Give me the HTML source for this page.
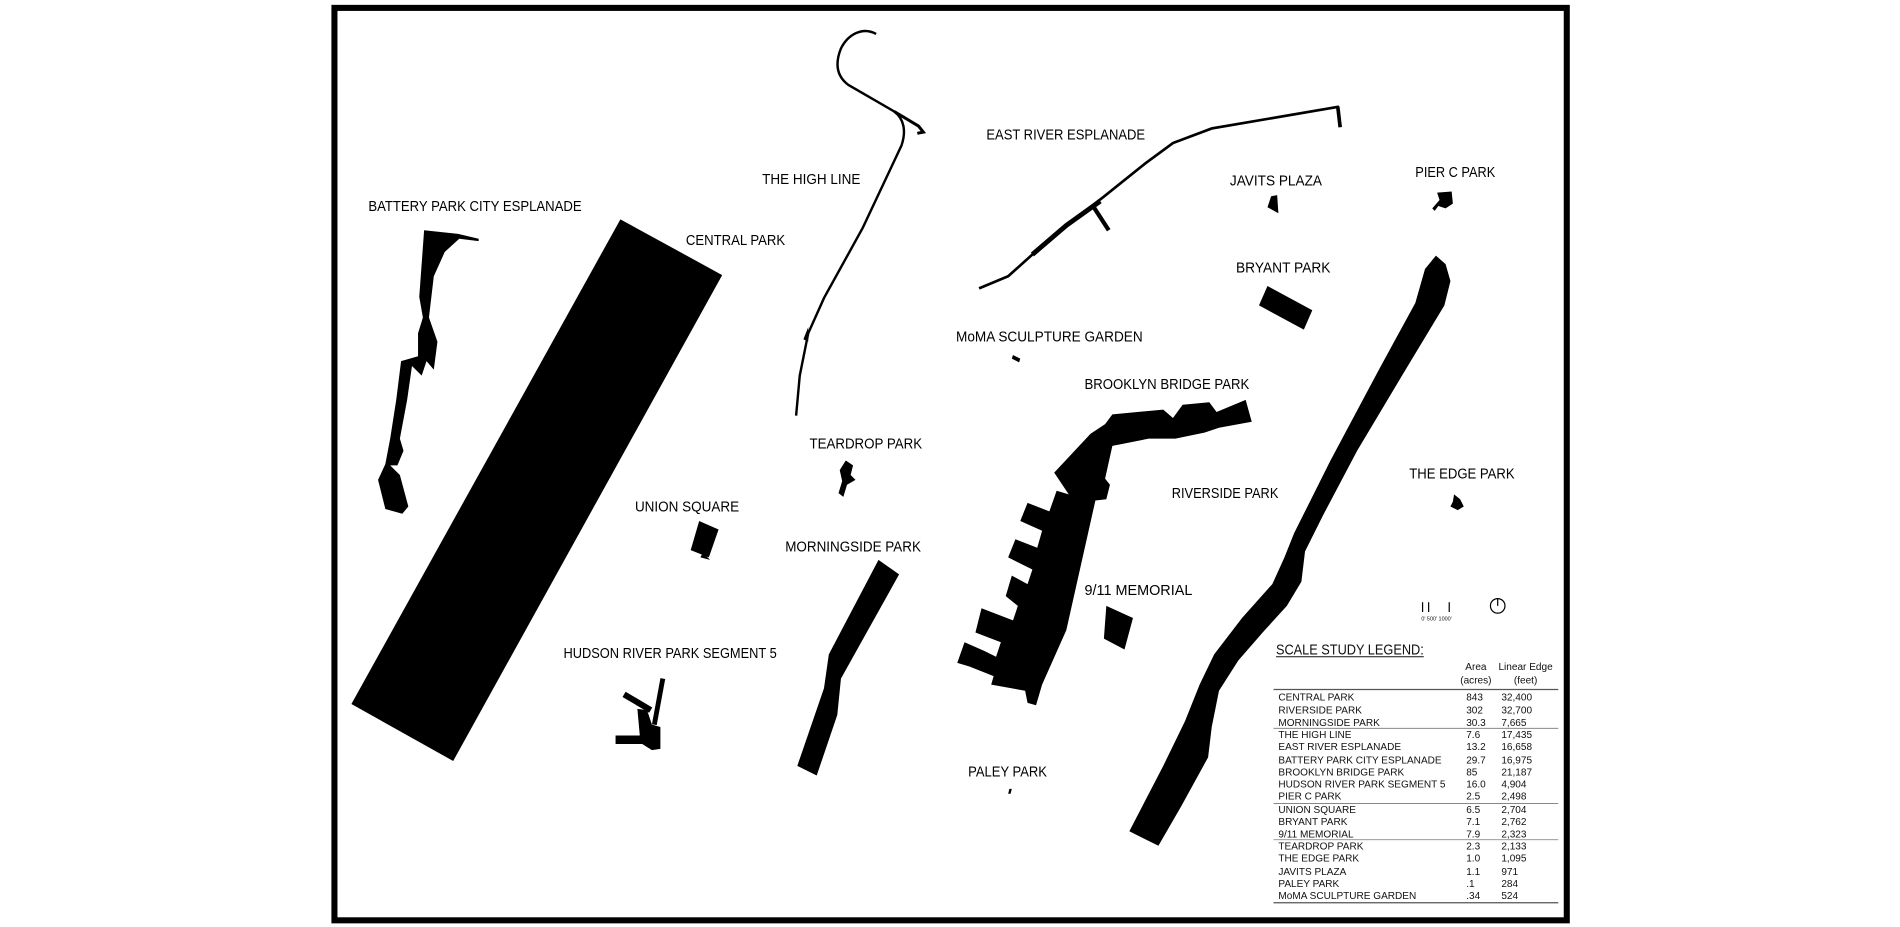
<!DOCTYPE html>
<html><head><meta charset="utf-8"><style>
html,body{margin:0;padding:0;background:#fff;}
svg{display:block;}
text{font-family:"Liberation Sans",sans-serif;fill:#111;}
.l{font-size:12.5px;fill:#000;}
.r{font-size:8.3px;}
</style></head><body>
<svg width="1900" height="927" viewBox="0 0 1568 765" xmlns="http://www.w3.org/2000/svg">
<rect x="0" y="0" width="1568" height="765" fill="#fff"/>
<rect x="276" y="6.5" width="1017" height="753" fill="none" stroke="#000" stroke-width="5"/>

<!-- Central Park -->
<polygon points="512,181 596,227 374,628 290,581" fill="#000"/>
<!-- Battery Park City Esplanade -->
<polygon points="350,190 378,193 395,197 395,199 379,197 367,208 358,228 354,262 361,282 358,305 352,298 348,310 340,302 336,330 330,362 333,372 328,384 322,384 330,392 337,418 332,424 318,420 312,396 318,383 322,362 327,330 331,298 345,294 345,275 349,262 346,245" fill="#000"/>
<polygon points="352,190 360,191 353,240 352,262 356,270 349,262 346,245" fill="#fff" opacity="0"/>
<!-- High Line -->
<path d="M723,28 C712,22 700,28 694,40 C688,55 692,64 700,70 L738,92 C746,98 748,108 744,120 L712,188 L680,246 L667,275 L660,310 L657,343" fill="none" stroke="#000" stroke-width="2"/>
<path d="M738,92 L758,104 L762,109 L757,110" fill="none" stroke="#000" stroke-width="2.5"/>
<path d="M667,270 l-4,10 l4,2z" fill="#000"/>
<!-- East River Esplanade -->
<path d="M808,238 L832,228 L852,210 L880,186 L910,163 L945,135 L968,118 L1000,106 L1105,88" fill="none" stroke="#000" stroke-width="2.2"/>
<path d="M852,210 L880,186 L908,166" fill="none" stroke="#000" stroke-width="4"/>
<path d="M902,170 L915,190" fill="none" stroke="#000" stroke-width="3.5"/>
<path d="M1104,88 L1106,105" fill="none" stroke="#000" stroke-width="3"/>
<!-- Javits -->
<polygon points="1049,162 1054,161 1055,176 1046,171" fill="#000"/>
<!-- Pier C -->
<path d="M1186,159 L1198,158 L1199,168 L1193,172 L1187,170 L1184,174 L1182,172 L1188,165z" fill="#000"/>
<!-- Bryant -->
<polygon points="1046,236 1083,256 1076,272 1039,252" fill="#000"/>
<!-- MoMA -->
<polygon points="836,293 842,296 841,299 835,296" fill="#000"/>
<!-- Brooklyn Bridge Park -->
<polygon points="918,342 960,338 968,345 976,334 998,332 1004,340 1028,330 1033,348 1006,353 994,357 970,362 948,362 928,366 918,368 912,395 916,400 913,412 904,413 880,520 860,565 855,582 848,580 846,570 818,565 820,558 800,550 790,547 796,530 812,537 822,542 826,530 805,522 810,502 836,512 840,500 830,492 835,475 848,482 852,470 832,460 838,445 856,452 860,438 842,430 848,415 866,422 872,405 882,408 870,390 900,358 912,350" fill="#000"/>
<!-- Teardrop -->
<polygon points="698,380 704,384 702,392 706,396 699,400 696,410 692,407 695,397 693,388" fill="#000"/>
<!-- Union Square -->
<polygon points="577,430 593,437 585,460 570,454" fill="#000"/>
<polygon points="580,456 586,462 578,460" fill="#000"/>
<!-- Morningside -->
<polygon points="725,462 742,474 694,560 691,590 674,640 658,632 680,568 684,540" fill="#000"/>
<!-- Hudson River Park Seg 5 -->
<path d="M547,560 L540,598" stroke="#000" stroke-width="4"/>
<path d="M515,573 L537,586" stroke="#000" stroke-width="5"/>
<polygon points="526,585 534,586 538,598 545,600 545,618 538,619 530,614 508,614 508,607 528,607" fill="#000"/>
<!-- 9/11 -->
<polygon points="913,500 935,510 928,536 911,527" fill="#000"/>
<!-- Paley -->
<polygon points="833,651 835,651 834,655 832,655" fill="#000"/>
<!-- Riverside -->
<path d="M1185,211 L1193,218 L1197,232 L1192,252 L1160,305 L1120,372 L1092,425 L1077,455 L1074,480 L1062,500 L1042,522 L1022,545 L1006,570 L1000,600 L997,625 L975,665 L956,698 L932,686 L960,632 L978,595 L990,565 L1002,540 L1025,510 L1050,482 L1060,460 L1068,440 L1098,380 L1138,305 L1168,250 L1176,222z" fill="#000"/>
<!-- Edge Park -->
<path d="M1200,408 L1205,412 L1208,418 L1203,421 L1197,418 L1199,414z" fill="#000"/>

<!-- Labels -->
<text class="l" x="304" y="174" textLength="176" lengthAdjust="spacingAndGlyphs">BATTERY PARK CITY ESPLANADE</text>
<text class="l" x="566" y="202" textLength="82" lengthAdjust="spacingAndGlyphs">CENTRAL PARK</text>
<text class="l" x="629" y="152" textLength="81" lengthAdjust="spacingAndGlyphs">THE HIGH LINE</text>
<text class="l" x="814" y="115" textLength="131" lengthAdjust="spacingAndGlyphs">EAST RIVER ESPLANADE</text>
<text class="l" x="1015" y="153" textLength="76" lengthAdjust="spacingAndGlyphs">JAVITS PLAZA</text>
<text class="l" x="1168" y="146" textLength="66" lengthAdjust="spacingAndGlyphs">PIER C PARK</text>
<text class="l" x="1020" y="225" textLength="78" lengthAdjust="spacingAndGlyphs">BRYANT  PARK</text>
<text class="l" x="789" y="282" textLength="154" lengthAdjust="spacingAndGlyphs">MoMA SCULPTURE GARDEN</text>
<text class="l" x="895" y="321" textLength="136" lengthAdjust="spacingAndGlyphs">BROOKLYN BRIDGE PARK</text>
<text class="l" x="668" y="370" textLength="93" lengthAdjust="spacingAndGlyphs">TEARDROP PARK</text>
<text class="l" x="524" y="422" textLength="86" lengthAdjust="spacingAndGlyphs">UNION SQUARE</text>
<text class="l" x="967" y="411" textLength="88" lengthAdjust="spacingAndGlyphs">RIVERSIDE PARK</text>
<text class="l" x="1163" y="395" textLength="87" lengthAdjust="spacingAndGlyphs">THE EDGE PARK</text>
<text class="l" x="648" y="455" textLength="112" lengthAdjust="spacingAndGlyphs">MORNINGSIDE PARK</text>
<text class="l" x="895" y="491" textLength="89" lengthAdjust="spacingAndGlyphs">9/11 MEMORIAL</text>
<text class="l" x="465" y="543" textLength="176" lengthAdjust="spacingAndGlyphs">HUDSON RIVER PARK SEGMENT 5</text>
<text class="l" x="799" y="641" textLength="65" lengthAdjust="spacingAndGlyphs">PALEY PARK</text>

<!-- scale bar & north -->
<path d="M1174,497 V505 M1179,497 V505 M1196,497 V505" stroke="#000" stroke-width="1"/>
<text x="1173" y="512" style="font-size:4.5px">0'  500'     1000'</text>
<circle cx="1236" cy="500" r="6" fill="none" stroke="#000" stroke-width="1"/>
<path d="M1236,494 V500" stroke="#000" stroke-width="1"/>

<!-- Legend -->
<text x="1053" y="540" style="font-size:12.5px" textLength="122" lengthAdjust="spacingAndGlyphs">SCALE STUDY LEGEND:</text>
<line x1="1053" y1="542" x2="1175" y2="542" stroke="#111" stroke-width="0.8"/>
<g class="r" text-anchor="middle">
<text x="1218" y="553">Area</text><text x="1218" y="564">(acres)</text>
<text x="1259" y="553">Linear Edge</text><text x="1259" y="564">(feet)</text>
</g>
<line x1="1051" y1="569" x2="1286" y2="569" stroke="#555" stroke-width="1"/>
<line x1="1051" y1="601" x2="1286" y2="601" stroke="#777" stroke-width="0.7"/>
<line x1="1051" y1="663" x2="1286" y2="663" stroke="#777" stroke-width="0.7"/>
<line x1="1051" y1="693" x2="1286" y2="693" stroke="#777" stroke-width="0.7"/>
<line x1="1051" y1="745" x2="1286" y2="745" stroke="#555" stroke-width="1"/>
<g class="r">
<text x="1055" y="578">CENTRAL PARK</text><text x="1210" y="578">843</text><text x="1239" y="578">32,400</text>
<text x="1055" y="589">RIVERSIDE PARK</text><text x="1210" y="589">302</text><text x="1239" y="589">32,700</text>
<text x="1055" y="599">MORNINGSIDE PARK</text><text x="1210" y="599">30.3</text><text x="1239" y="599">7,665</text>
<text x="1055" y="609">THE HIGH LINE</text><text x="1210" y="609">7.6</text><text x="1239" y="609">17,435</text>
<text x="1055" y="619">EAST RIVER ESPLANADE</text><text x="1210" y="619">13.2</text><text x="1239" y="619">16,658</text>
<text x="1055" y="630">BATTERY PARK CITY ESPLANADE</text><text x="1210" y="630">29.7</text><text x="1239" y="630">16,975</text>
<text x="1055" y="640">BROOKLYN BRIDGE PARK</text><text x="1210" y="640">85</text><text x="1239" y="640">21,187</text>
<text x="1055" y="650">HUDSON RIVER PARK SEGMENT 5</text><text x="1210" y="650">16.0</text><text x="1239" y="650">4,904</text>
<text x="1055" y="660">PIER C PARK</text><text x="1210" y="660">2.5</text><text x="1239" y="660">2,498</text>
<text x="1055" y="671">UNION SQUARE</text><text x="1210" y="671">6.5</text><text x="1239" y="671">2,704</text>
<text x="1055" y="681">BRYANT PARK</text><text x="1210" y="681">7.1</text><text x="1239" y="681">2,762</text>
<text x="1055" y="691">9/11 MEMORIAL</text><text x="1210" y="691">7.9</text><text x="1239" y="691">2,323</text>
<text x="1055" y="701">TEARDROP PARK</text><text x="1210" y="701">2.3</text><text x="1239" y="701">2,133</text>
<text x="1055" y="711">THE EDGE PARK</text><text x="1210" y="711">1.0</text><text x="1239" y="711">1,095</text>
<text x="1055" y="722">JAVITS PLAZA</text><text x="1210" y="722">1.1</text><text x="1239" y="722">971</text>
<text x="1055" y="732">PALEY PARK</text><text x="1210" y="732">.1</text><text x="1239" y="732">284</text>
<text x="1055" y="742">MoMA SCULPTURE GARDEN</text><text x="1210" y="742">.34</text><text x="1239" y="742">524</text>
</g>
</svg>
</body></html>
